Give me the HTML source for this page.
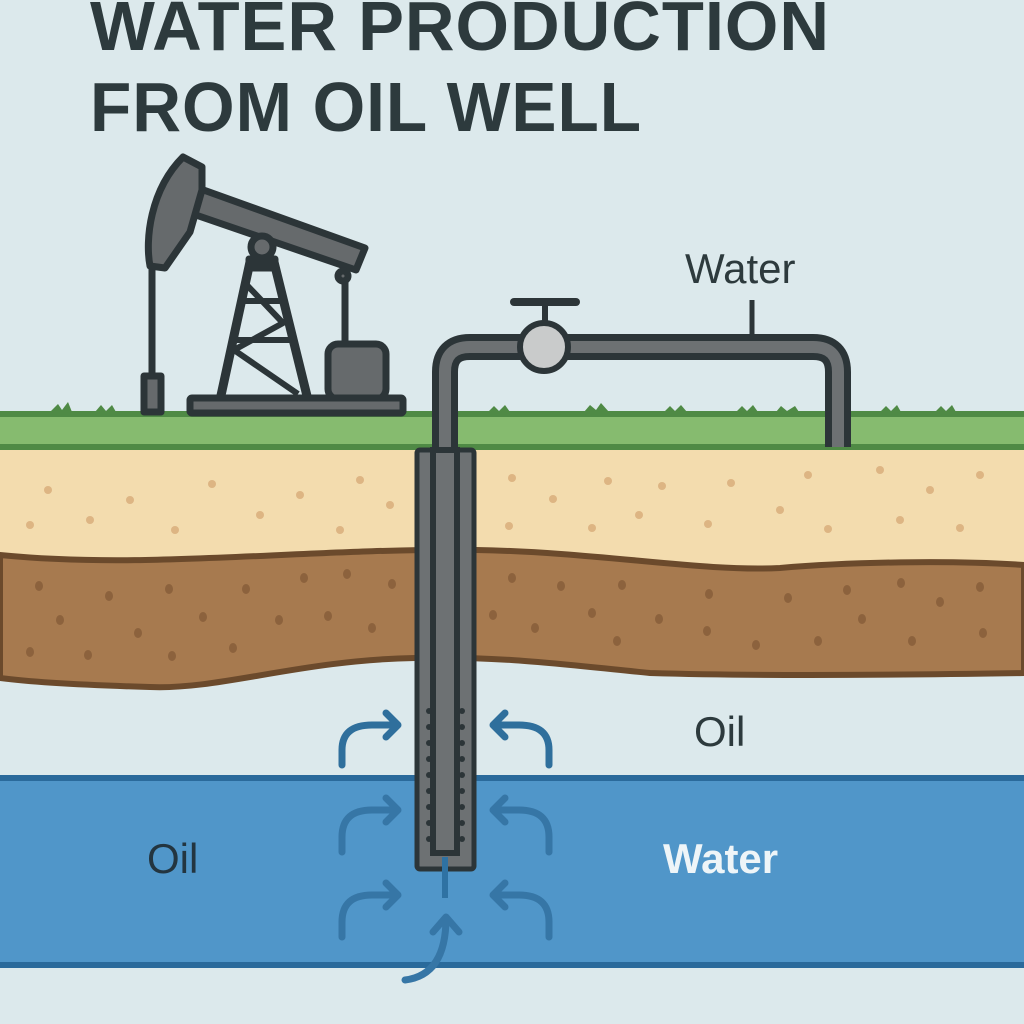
<!DOCTYPE html>
<html><head><meta charset="utf-8"><style>
html,body{margin:0;padding:0;background:#dce9ec;}
svg{display:block}
text{font-family:"Liberation Sans","DejaVu Sans",sans-serif}
</style></head><body>
<svg width="1024" height="1024" viewBox="0 0 1024 1024" xmlns="http://www.w3.org/2000/svg">
<rect width="1024" height="1024" fill="#dce9ec"/>
<text x="90" y="50" font-size="70" font-weight="bold" fill="#2d3a3d" letter-spacing="1" textLength="740" lengthAdjust="spacingAndGlyphs">WATER PRODUCTION</text>
<text x="90" y="131" font-size="70" font-weight="bold" fill="#2d3a3d" letter-spacing="1" textLength="552" lengthAdjust="spacingAndGlyphs">FROM OIL WELL</text>

<rect x="0" y="448" width="1024" height="130" fill="#f3dcae"/>
<path d="M0,555 C150,570 300,548 476,550 C600,552 700,572 780,568 C850,562 950,560 1024,565 L1024,673 C900,675 750,676 650,673 C560,664 500,656 415,658 C300,660 220,690 150,687 C80,685 30,682 0,678 Z" fill="#a77a4f" stroke="#6b4a2c" stroke-width="6"/>
<g fill="#8c623d">
<ellipse cx="39" cy="586" rx="4" ry="5"/><ellipse cx="109" cy="596" rx="4" ry="5"/><ellipse cx="169" cy="589" rx="4" ry="5"/><ellipse cx="246" cy="589" rx="4" ry="5"/><ellipse cx="304" cy="578" rx="4" ry="5"/><ellipse cx="347" cy="574" rx="4" ry="5"/><ellipse cx="392" cy="584" rx="4" ry="5"/>
<ellipse cx="60" cy="620" rx="4" ry="5"/><ellipse cx="203" cy="617" rx="4" ry="5"/><ellipse cx="279" cy="620" rx="4" ry="5"/><ellipse cx="328" cy="616" rx="4" ry="5"/><ellipse cx="372" cy="628" rx="4" ry="5"/><ellipse cx="138" cy="633" rx="4" ry="5"/>
<ellipse cx="30" cy="652" rx="4" ry="5"/><ellipse cx="88" cy="655" rx="4" ry="5"/><ellipse cx="172" cy="656" rx="4" ry="5"/><ellipse cx="233" cy="648" rx="4" ry="5"/>
<ellipse cx="512" cy="578" rx="4" ry="5"/><ellipse cx="561" cy="586" rx="4" ry="5"/><ellipse cx="622" cy="585" rx="4" ry="5"/><ellipse cx="709" cy="594" rx="4" ry="5"/><ellipse cx="788" cy="598" rx="4" ry="5"/><ellipse cx="847" cy="590" rx="4" ry="5"/><ellipse cx="901" cy="583" rx="4" ry="5"/><ellipse cx="980" cy="587" rx="4" ry="5"/><ellipse cx="940" cy="602" rx="4" ry="5"/>
<ellipse cx="493" cy="615" rx="4" ry="5"/><ellipse cx="592" cy="613" rx="4" ry="5"/><ellipse cx="659" cy="619" rx="4" ry="5"/><ellipse cx="862" cy="619" rx="4" ry="5"/><ellipse cx="535" cy="628" rx="4" ry="5"/><ellipse cx="707" cy="631" rx="4" ry="5"/><ellipse cx="983" cy="633" rx="4" ry="5"/>
<ellipse cx="617" cy="641" rx="4" ry="5"/><ellipse cx="756" cy="645" rx="4" ry="5"/><ellipse cx="818" cy="641" rx="4" ry="5"/><ellipse cx="912" cy="641" rx="4" ry="5"/>
</g>
<g fill="#ddb583">
<circle cx="48" cy="490" r="4"/><circle cx="130" cy="500" r="4"/><circle cx="212" cy="484" r="4"/><circle cx="300" cy="495" r="4"/><circle cx="360" cy="480" r="4"/><circle cx="90" cy="520" r="4"/><circle cx="175" cy="530" r="4"/><circle cx="260" cy="515" r="4"/><circle cx="340" cy="530" r="4"/><circle cx="30" cy="525" r="4"/><circle cx="390" cy="505" r="4"/>
<circle cx="512" cy="478" r="4"/><circle cx="553" cy="499" r="4"/><circle cx="608" cy="481" r="4"/><circle cx="662" cy="486" r="4"/><circle cx="731" cy="483" r="4"/><circle cx="808" cy="475" r="4"/><circle cx="509" cy="526" r="4"/><circle cx="592" cy="528" r="4"/><circle cx="639" cy="515" r="4"/><circle cx="708" cy="524" r="4"/><circle cx="780" cy="510" r="4"/><circle cx="828" cy="529" r="4"/><circle cx="880" cy="470" r="4"/><circle cx="930" cy="490" r="4"/><circle cx="980" cy="475" r="4"/><circle cx="900" cy="520" r="4"/><circle cx="960" cy="528" r="4"/>
</g>

<rect x="0" y="412" width="1024" height="38" fill="#86bb6f"/>
<rect x="0" y="411" width="1024" height="6" fill="#4f8a45"/>
<rect x="0" y="444" width="1024" height="6" fill="#4f8a45"/>
<g fill="#4f8a45">
<path d="M50,412 l8,-8 l4,6 l6,-8 l4,10z"/><path d="M95,412 l6,-7 l5,6 l6,-6 l4,7z"/><path d="M488,412 l6,-6 l5,5 l6,-6 l5,7z"/><path d="M584,412 l6,-7 l6,5 l5,-7 l8,9z"/><path d="M664,412 l6,-6 l5,5 l6,-6 l6,7z"/><path d="M736,412 l6,-6 l5,5 l6,-6 l5,7z"/><path d="M776,412 l5,-6 l6,5 l8,-5 l4,6z"/><path d="M880,412 l6,-6 l5,5 l6,-6 l4,7z"/><path d="M935,412 l6,-6 l5,5 l6,-6 l4,7z"/>
</g>

<rect x="0" y="778" width="1024" height="188" fill="#5096c9"/>
<rect x="0" y="775" width="1024" height="6" fill="#2a6a9b"/>
<rect x="0" y="962" width="1024" height="6" fill="#2a6a9b"/>

<!-- pumpjack -->
<g stroke="#2c3538" stroke-width="7" stroke-linejoin="round" fill="#666a6c">
<line x1="152" y1="262" x2="152" y2="380"/>
<rect x="144" y="376" width="17" height="36"/>
<line x1="345" y1="275" x2="345" y2="345"/>
<path d="M250,262 L274,262 L308,400 L220,400 Z" fill="none" stroke-width="9"/>
<path d="M244,282 L283,323 L234,350 L298,394 M240,301 L282,301 M232,340 L292,340" fill="none" stroke-width="6"/>
<rect x="328" y="344" width="58" height="55" rx="10"/>
<rect x="190" y="398" width="213" height="15" rx="2"/>
<path d="M198,188 L365,248 L356,270 L190,213 Z"/>
<circle cx="262" cy="247" r="11"/>
<rect x="249" y="259" width="26" height="9" fill="#2c3538"/>
<path d="M183,157 L202,167 L202,190 L190,232 L165,268 L150,266 C145,240 150,190 183,157 Z"/>
<circle cx="343" cy="276" r="5"/>
</g>

<g fill="none" stroke-linecap="butt">
<path d="M445,870 L445,372 Q445,347 470,347 L813,347 Q838,347 838,372 L838,447" stroke="#2c3538" stroke-width="26"/>
<path d="M445,870 L445,372 Q445,347 470,347 L813,347 Q838,347 838,372 L838,447" stroke="#6d7173" stroke-width="12"/>
</g>
<line x1="752" y1="300" x2="752" y2="336" stroke="#2c3538" stroke-width="5"/>
<line x1="514" y1="302" x2="576" y2="302" stroke="#2c3538" stroke-width="8" stroke-linecap="round"/>
<line x1="545" y1="302" x2="545" y2="325" stroke="#2c3538" stroke-width="6"/>
<circle cx="544" cy="347" r="24" fill="#c9cbcb" stroke="#2c3538" stroke-width="6"/>

<rect x="417" y="450" width="57" height="419" rx="3" fill="#6d7173" stroke="#2c3538" stroke-width="5"/>
<rect x="433" y="450" width="24" height="403" fill="#6d7173" stroke="#2c3538" stroke-width="6"/>
<g fill="#2c3538">
<circle cx="429" cy="711" r="3"/><circle cx="429" cy="727" r="3"/><circle cx="429" cy="743" r="3"/><circle cx="429" cy="759" r="3"/><circle cx="429" cy="775" r="3"/><circle cx="429" cy="791" r="3"/><circle cx="429" cy="807" r="3"/><circle cx="429" cy="823" r="3"/><circle cx="429" cy="839" r="3"/>
<circle cx="462" cy="711" r="3"/><circle cx="462" cy="727" r="3"/><circle cx="462" cy="743" r="3"/><circle cx="462" cy="759" r="3"/><circle cx="462" cy="775" r="3"/><circle cx="462" cy="791" r="3"/><circle cx="462" cy="807" r="3"/><circle cx="462" cy="823" r="3"/><circle cx="462" cy="839" r="3"/>
</g>
<line x1="445" y1="857" x2="445" y2="898" stroke="#2f72a3" stroke-width="6"/>

<g fill="none" stroke-width="7" stroke-linecap="round" stroke-linejoin="round">
<g stroke="#2f6f9c">
<path d="M342,765 L342,750 Q342,725 372,725 L398,725 M386,713 L398,725 L386,737"/>
<path d="M549,765 L549,750 Q549,725 519,725 L493,725 M505,713 L493,725 L505,737"/>
</g>
<g stroke="#3676a6">
<path d="M342,852 L342,837 Q342,810 372,810 L398,810 M386,798 L398,810 L386,822"/>
<path d="M549,852 L549,837 Q549,810 519,810 L493,810 M505,798 L493,810 L505,822"/>
<path d="M342,937 L342,922 Q342,895 372,895 L398,895 M386,883 L398,895 L386,907"/>
<path d="M549,937 L549,922 Q549,895 519,895 L493,895 M505,883 L493,895 L505,907"/>
<path d="M405,980 Q446,975 446,918 M433,932 L446,917 L459,932"/>
</g>
</g>

<text x="685" y="283" font-size="42" fill="#2d3a3d">Water</text>
<text x="694" y="746" font-size="42" fill="#2d3a3d">Oil</text>
<text x="147" y="873" font-size="42" fill="#233540">Oil</text>
<text x="663" y="873" font-size="42" font-weight="bold" fill="#eef5f8">Water</text>
</svg>
</body></html>
